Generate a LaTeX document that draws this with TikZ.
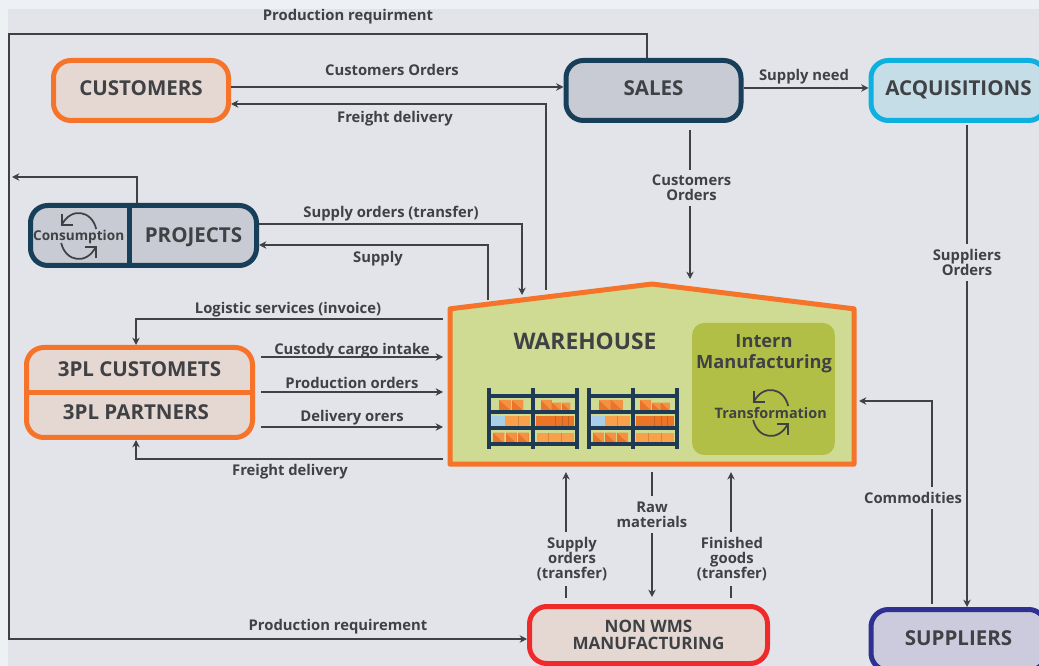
\documentclass[tikz,border=0pt]{standalone}
\usepackage{fontspec}
\setmainfont{Open Sans}
\usetikzlibrary{arrows.meta,calc}
\definecolor{page}{HTML}{EDF1F3}
\definecolor{bg}{HTML}{E2E4E9}
\definecolor{ink}{HTML}{3F4145}
\definecolor{orangeb}{HTML}{F6732A}
\definecolor{navy}{HTML}{173F5A}
\definecolor{sky}{HTML}{0DB0DE}
\definecolor{redb}{HTML}{EE2A2A}
\definecolor{indigo}{HTML}{2E3192}
\definecolor{peach}{HTML}{E5D8D2}
\definecolor{greyf}{HTML}{C8CBD3}
\definecolor{skyf}{HTML}{C5DDE6}
\definecolor{indigof}{HTML}{CBCBDD}
\definecolor{wh}{HTML}{CFDA93}
\definecolor{intern}{HTML}{B1BF47}
\definecolor{rack}{HTML}{1F3A55}
\definecolor{boxd}{HTML}{EC7426}
\definecolor{boxm}{HTML}{F39243}
\definecolor{boxl}{HTML}{F9A04A}
\definecolor{boxb}{HTML}{A9CFE8}
\tikzset{
  x=0.75pt,y=-0.75pt,
  box/.style={draw,line width=3.75pt,rounded corners=13pt,font=\fontsize{15.4pt}{18pt}\selectfont\bfseries,text=ink,align=center,inner sep=0pt},
  boxt/.style={box,text height=11.5pt,text depth=3.5pt},
  boxname/.style={font=\fontsize{15.4pt}{18pt}\selectfont\bfseries,text=ink,blank},
  blank/.style={inner sep=0pt,outer sep=0pt},
  lab/.style={font=\fontsize{11.1pt}{11.25pt}\selectfont\bfseries,text=ink,align=center,inner sep=1pt,yshift=-1.2pt},
  gap/.style={font=\fontsize{11.1pt}{11.25pt}\selectfont\bfseries,text=ink,align=center,fill=bg,inner xsep=0pt,inner ysep=4pt},
  plain/.style={draw=ink,line width=1.5pt},
  flow/.style={plain,-{Stealth[length=5.5pt,width=5.5pt]}},
  cyc/.style={draw=ink,line width=1.3pt}
}
\newcommand{\cyclemark}[2]{%
  \begin{scope}[shift={(#1,#2)}]
    \draw[cyc] (17.5,-7) .. controls (13,-26) and (-8,-29) .. (-17,-11);
    \draw[cyc] (-17,-22) -- (-17,-11) -- (-6,-11);
    \draw[cyc] (-17.5,7) .. controls (-13,26) and (8,29) .. (17,11);
    \draw[cyc] (17,22) -- (17,11) -- (6,11);
  \end{scope}}
\newcommand{\cartons}[6]{\fill[#1] (#2,#3) rectangle (#4,#5);
  \foreach \d in {#6} {\draw[black!15!#1,line width=.3pt] (\d,#3) -- (\d,#5);}}
\newcommand{\tapebox}[4]{\fill[boxd] (#1,#2) rectangle (#3,#4);
  \fill[boxm] (#1,#2) -- (#3,#2) -- (#3,#4) -- cycle;}
\newcommand{\rackunit}[1]{%
  \begin{scope}[shift={(#1,0)}]
    \tapebox{499.3}{400}{511}{410.7}
    \tapebox{511.7}{400}{523.3}{410.7}
    \tapebox{540.7}{400}{551.7}{410.7}
    \tapebox{552.3}{402.7}{561}{410.7}
    \tapebox{561.7}{402.7}{570.3}{410.7}
    \fill[boxb] (492.3,416) rectangle (505,426.7);
    \cartons{boxl}{505}{416}{530.3}{426.7}{517.7}
    \cartons{boxd}{536}{416}{574.3}{426.7}{555,562,568}
    \tapebox{493.3}{432.7}{504.3}{443.3}
    \tapebox{505.7}{432.7}{516.7}{443.3}
    \tapebox{517.7}{432.7}{528.7}{443.3}
    \cartons{boxl}{536.7}{432.7}{574}{443.3}{548.6,561.3}
    \foreach \s in {396,412,428,444} {\draw[rack,line width=2.8pt] (489,\s) -- (577,\s);}
    \foreach \p in {489,533,577} {\draw[rack,line width=3pt] (\p,388) -- (\p,449.5);}
  \end{scope}}
\begin{document}
\begin{tikzpicture}
\clip (0,0) rectangle (1039,666);
\fill[page] (0,0) rectangle (1039,666);
\fill[bg] (8,9) rectangle (1039,666);

% boxes
\node[boxt,draw=orangeb,fill=peach,minimum width=131.25pt,minimum height=45pt] (customers) at (141,90.5) {CUSTOMERS};
\node[boxt,draw=navy,fill=greyf,minimum width=131.25pt,minimum height=45pt] (sales) at (653.5,90.5) {SALES};
\node[boxt,draw=sky,fill=skyf,minimum width=131.25pt,minimum height=45pt] (acq) at (958.5,90.5) {ACQUISITIONS};
\node[box,draw=navy,fill=greyf,minimum width=169.5pt,minimum height=45pt] (projects) at (143.5,235.5) {};
\node[boxname] (projname) at (193.5,237.5) {PROJECTS};
\draw[navy,line width=3.75pt] (projects.north -| 129,0) -- (projects.south -| 129,0);
\cyclemark{78.7}{236}
\node[font=\fontsize{10.2pt}{11pt}\selectfont\bfseries,text=ink,blank] (consumption) at (78.7,237) {Consumption};

\node[box,draw=orangeb,fill=peach,minimum width=169.5pt,minimum height=67.5pt] (tpl) at (139.5,392.5) {};
\draw[orangeb,line width=3.75pt] (tpl.west) -- (tpl.east);
\node[boxname] (tplc) at (139.5,369) {3PL CUSTOMETS};
\node[boxname] (tplp) at (136,412) {3PL PARTNERS};

\node[box,draw=redb,fill=peach,minimum width=178.5pt,minimum height=42.75pt,font=\fontsize{12.8pt}{12.6pt}\selectfont\bfseries] (nonwms) at (648.5,635) {NON WMS\\MANUFACTURING};
\node[boxt,draw=indigo,fill=indigof,minimum width=131.25pt,minimum height=45.75pt] (suppliers) at (958.5,640) {SUPPLIERS};

% warehouse
\node[blank,minimum width=303pt,minimum height=116.5pt] (warehouse) at (652,386.5) {};
\draw[orangeb,fill=wh,line width=3.75pt,line join=round] (warehouse.south west) -- (warehouse.north west) -- (652,284) -- (warehouse.north east) -- (warehouse.south east) -- cycle;
\coordinate (roofA) at (488,300);
\coordinate (roofB) at (522,295);
\coordinate (roofC) at (546,290);
\coordinate (roofD) at (690,279);
\node[blank,fill=intern,rounded corners=9pt,minimum width=107pt,minimum height=99pt] (internbox) at (763.5,389) {};
\node[font=\fontsize{13.7pt}{15.75pt}\selectfont\bfseries,text=ink,align=center,blank] (interntxt) at (764,354) {Intern\\Manufacturing};
\cyclemark{770.7}{413}
\node[font=\fontsize{10.8pt}{12pt}\selectfont\bfseries,text=ink,blank] (transf) at (770.7,413) {Transformation};
\node[font=\fontsize{17.1pt}{20pt}\selectfont\bfseries,text=ink,blank] (whname) at (585,341) {WAREHOUSE};
\rackunit{0}
\rackunit{99.5}

% connectors
\coordinate (farleft) at (9,34);
\coordinate (railtip) at (12,177);
\draw[flow] (sales.north -| 647,0) |- (farleft) |- (nonwms.west |- 0,639);
\draw[flow] (customers.east |- 0,87) -- (sales.west |- 0,87);
\draw[flow] (roofC) |- (customers.east |- 0,104);
\draw[flow] (sales.east |- 0,88) -- (acq.west |- 0,88);
\draw[flow] (sales.south -| 690,0) ++(0,7) -- node[gap,pos=.39,xshift=1.2pt] {Customers\\Orders} (roofD);
\draw[flow] (acq.south -| 967,0) ++(0,2) -- node[gap,pos=.285] {Suppliers\\Orders} (suppliers.north -| 967,0);
\draw[flow] (projects.north -| 137,0) |- (railtip);
\draw[flow] (projects.east |- 0,224) -| (roofB);
\draw[flow] (roofA) |- (projects.east |- 0,245);
\draw[flow] (warehouse.west |- 0,319) ++(-7,0) -| (tpl.north -| 136,0);
\draw[flow] (tpl.east |- 0,357) ++(6,0) -- ($(warehouse.west |- 0,357)+(-7,0)$);
\draw[flow] (tpl.east |- 0,392) ++(6,0) -- ($(warehouse.west |- 0,392)+(-7,0)$);
\draw[flow] (tpl.east |- 0,427) ++(6,0) -- ($(warehouse.west |- 0,427)+(-7,0)$);
\draw[flow] (warehouse.west |- 0,459) ++(-7,0) -| (tpl.south -| 136,0);
\draw[flow] (nonwms.north -| 566,0) ++(0,-6) -- node[gap,pos=.31,xshift=4.5pt] {Supply\\orders\\(transfer)} ($(warehouse.south -| 566,0)+(0,8)$);
\draw[flow] (warehouse.south -| 652,0) ++(0,8) -- node[gap,pos=.34] {Raw\\materials} ($(nonwms.north -| 652,0)+(0,-7)$);
\draw[flow] (nonwms.north -| 731,0) ++(0,-6) -- node[gap,pos=.31,xshift=.7pt] {Finished\\goods\\(transfer)} ($(warehouse.south -| 731,0)+(0,8)$);
\draw[flow] (suppliers.north -| 932,0) ++(0,-3) |- node[gap,pos=.26,xshift=-14.25pt] {Commodities} ($(warehouse.east |- 0,401)+(5,0)$);

% labels
\node[lab] (l1) at (348,15) {Production requirment};
\node[lab] (l2) at (392,68) {Customers Orders};
\node[lab] (l3) at (395,117) {Freight delivery};
\node[lab] (l4) at (804,75) {Supply need};
\node[lab] (l5) at (391,212) {Supply orders (transfer)};
\node[lab] (l6) at (378,257) {Supply};
\node[lab] (l7) at (288,308) {Logistic services (invoice)};
\node[lab] (l8) at (352,349) {Custody cargo intake};
\node[lab] (l9) at (352,381.5) {Production orders};
\node[lab] (l10) at (352,416) {Delivery orers};
\node[lab] (l11) at (290,470) {Freight delivery};
\node[lab] (l12) at (338,625) {Production requirement};
\end{tikzpicture}
\end{document}
